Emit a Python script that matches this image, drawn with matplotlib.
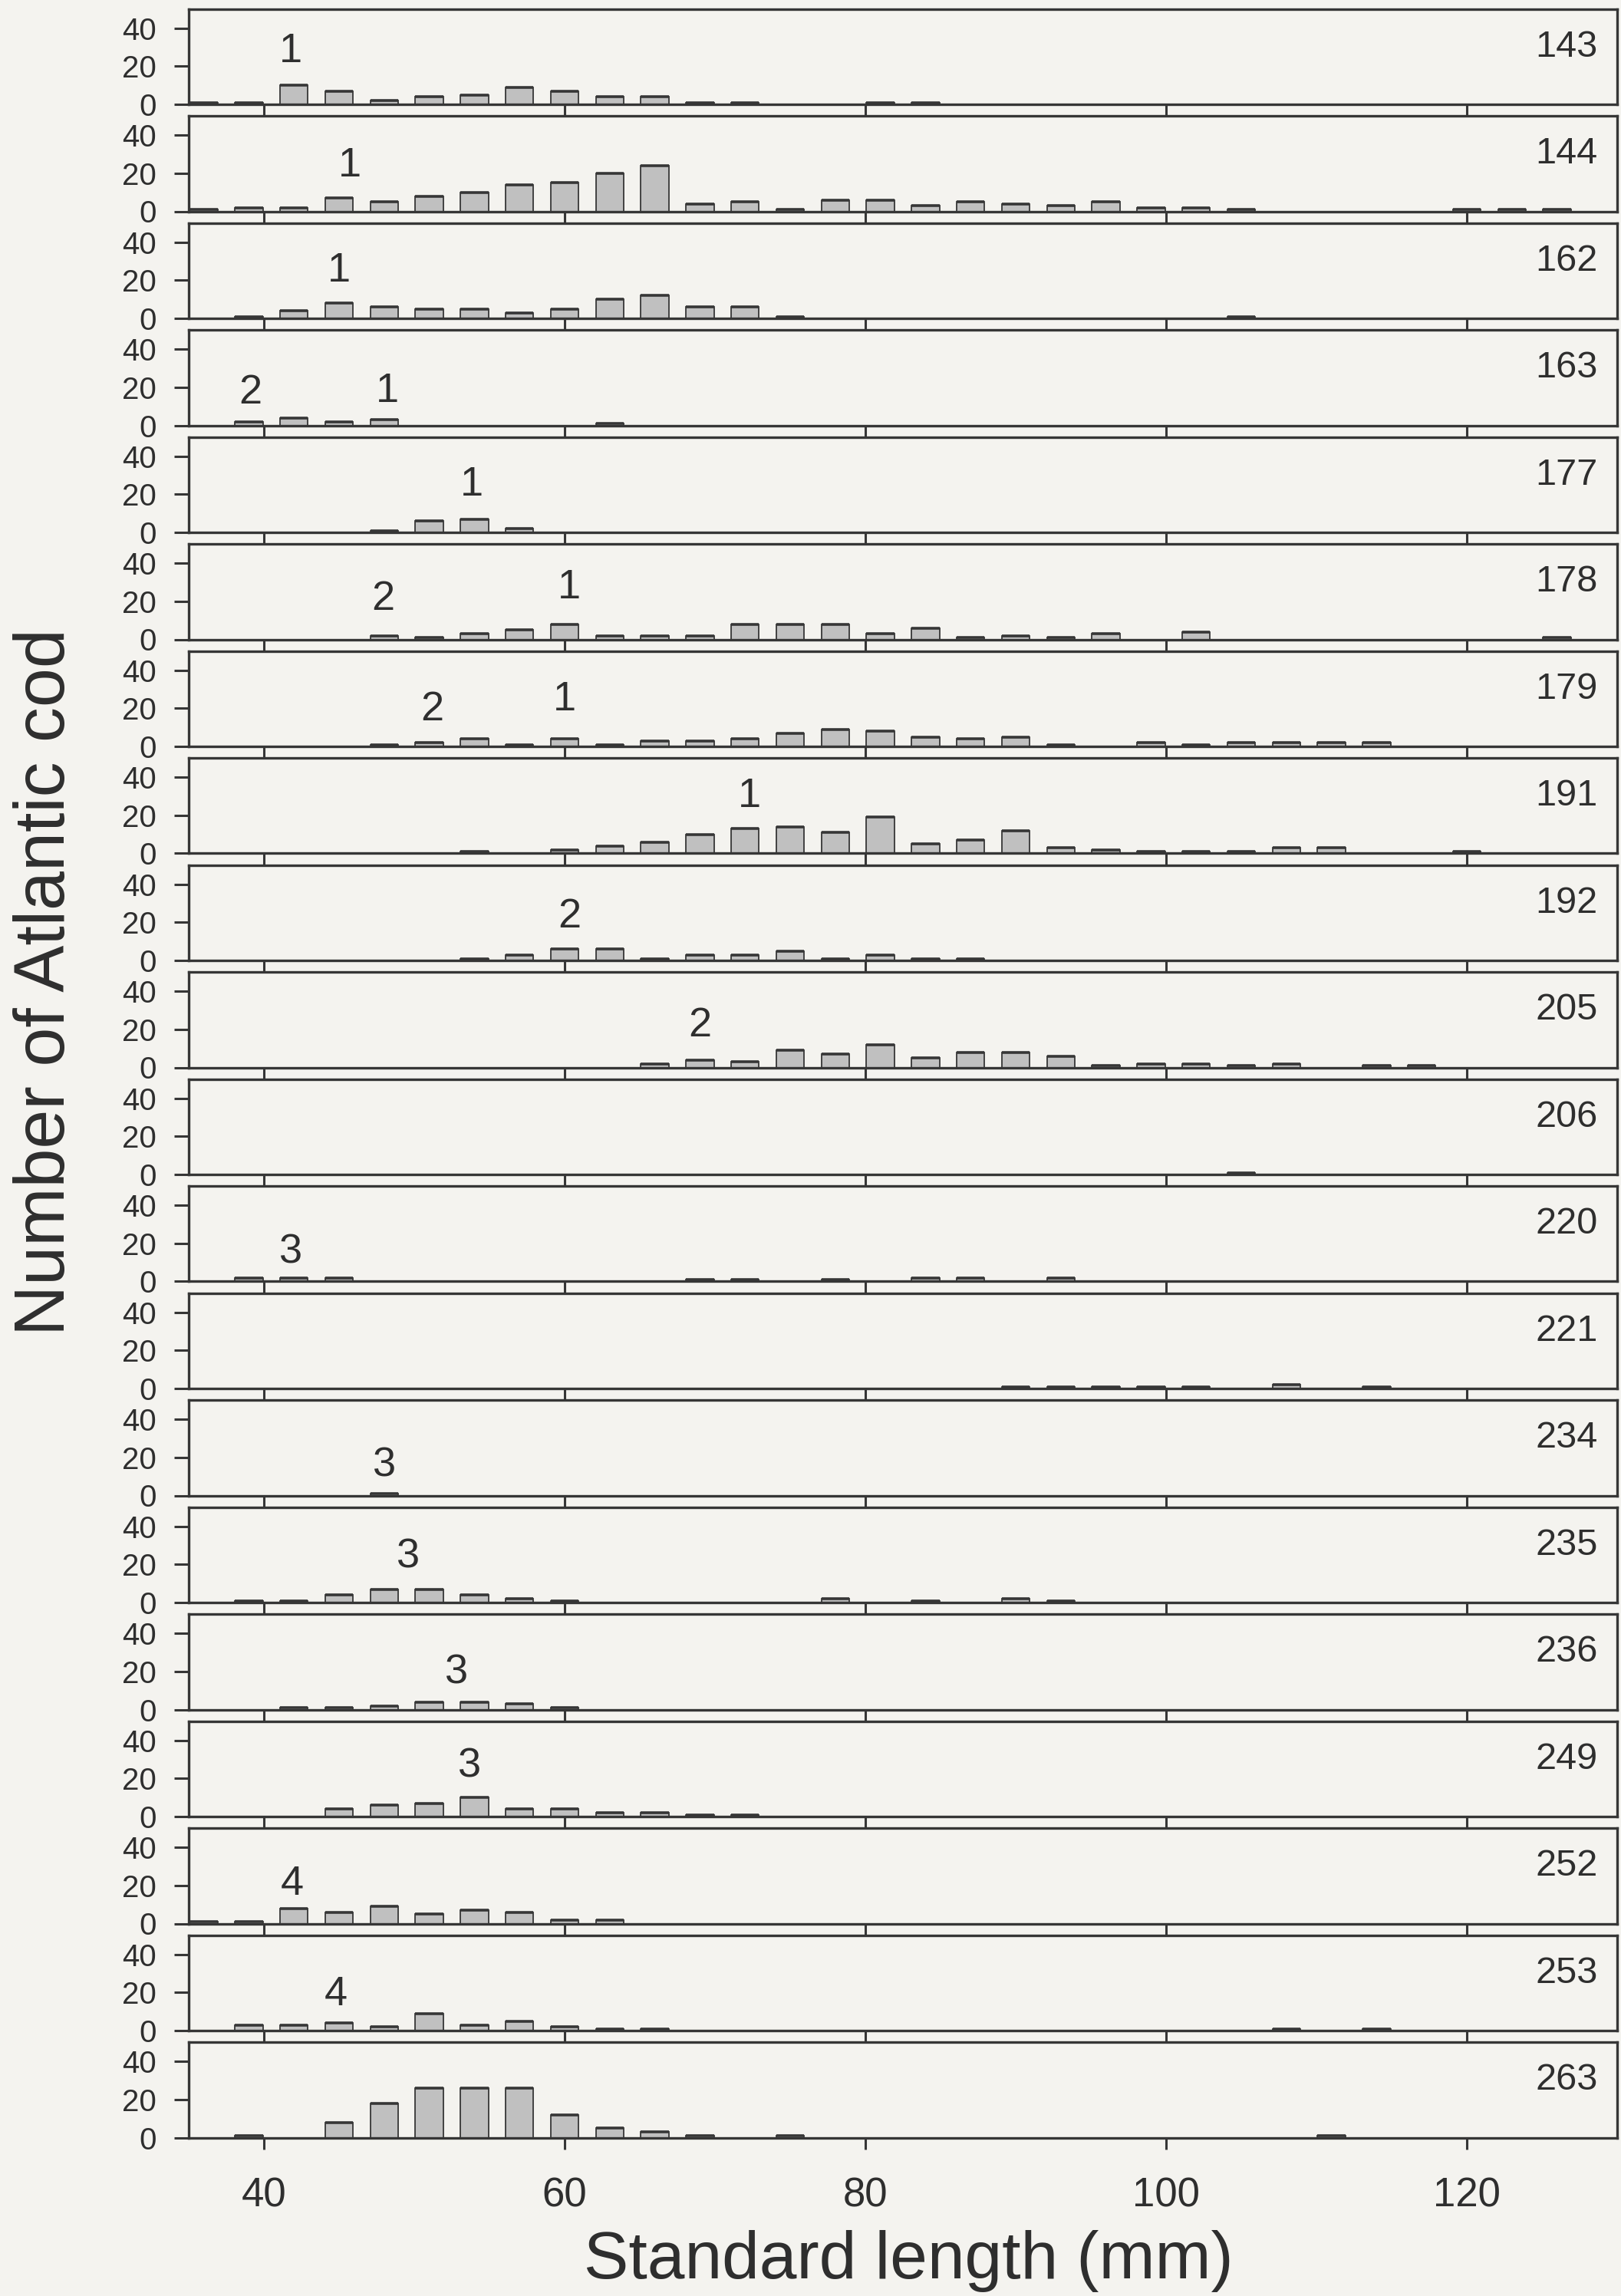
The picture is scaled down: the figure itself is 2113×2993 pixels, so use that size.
import matplotlib
matplotlib.use("Agg")
import matplotlib.pyplot as plt

plt.rcParams["font.family"] = ["Liberation Sans", "DejaVu Sans"]

# length classes (mm), bin centres
lengths = [36, 39, 42, 45, 48, 51, 54, 57, 60, 63, 66, 69, 72, 75, 78, 81,
           84, 87, 90, 93, 96, 99, 102, 105, 108, 111, 114, 117, 120, 123, 126]

stations = [143, 144, 162, 163, 177, 178, 179, 191, 192, 205,
            206, 220, 221, 234, 235, 236, 249, 252, 253, 263]

counts = [
    [1, 1, 10, 7, 2, 4, 5, 9, 7, 4, 4, 1, 1, 0, 0, 1, 1, 0, 0, 0, 0, 0, 0, 0, 0, 0, 0, 0, 0, 0, 0],
    [1, 2, 2, 7, 5, 8, 10, 14, 15, 20, 24, 4, 5, 1, 6, 6, 3, 5, 4, 3, 5, 2, 2, 1, 0, 0, 0, 0, 1, 1, 1],
    [0, 1, 4, 8, 6, 5, 5, 3, 5, 10, 12, 6, 6, 1, 0, 0, 0, 0, 0, 0, 0, 0, 0, 1, 0, 0, 0, 0, 0, 0, 0],
    [0, 2, 4, 2, 3, 0, 0, 0, 0, 1, 0, 0, 0, 0, 0, 0, 0, 0, 0, 0, 0, 0, 0, 0, 0, 0, 0, 0, 0, 0, 0],
    [0, 0, 0, 0, 1, 6, 7, 2, 0, 0, 0, 0, 0, 0, 0, 0, 0, 0, 0, 0, 0, 0, 0, 0, 0, 0, 0, 0, 0, 0, 0],
    [0, 0, 0, 0, 2, 1, 3, 5, 8, 2, 2, 2, 8, 8, 8, 3, 6, 1, 2, 1, 3, 0, 4, 0, 0, 0, 0, 0, 0, 0, 1],
    [0, 0, 0, 0, 1, 2, 4, 1, 4, 1, 3, 3, 4, 7, 9, 8, 5, 4, 5, 1, 0, 2, 1, 2, 2, 2, 2, 0, 0, 0, 0],
    [0, 0, 0, 0, 0, 0, 1, 0, 2, 4, 6, 10, 13, 14, 11, 19, 5, 7, 12, 3, 2, 1, 1, 1, 3, 3, 0, 0, 1, 0, 0],
    [0, 0, 0, 0, 0, 0, 1, 3, 6, 6, 1, 3, 3, 5, 1, 3, 1, 1, 0, 0, 0, 0, 0, 0, 0, 0, 0, 0, 0, 0, 0],
    [0, 0, 0, 0, 0, 0, 0, 0, 0, 0, 2, 4, 3, 9, 7, 12, 5, 8, 8, 6, 1, 2, 2, 1, 2, 0, 1, 1, 0, 0, 0],
    [0, 0, 0, 0, 0, 0, 0, 0, 0, 0, 0, 0, 0, 0, 0, 0, 0, 0, 0, 0, 0, 0, 0, 1, 0, 0, 0, 0, 0, 0, 0],
    [0, 2, 2, 2, 0, 0, 0, 0, 0, 0, 0, 1, 1, 0, 1, 0, 2, 2, 0, 2, 0, 0, 0, 0, 0, 0, 0, 0, 0, 0, 0],
    [0, 0, 0, 0, 0, 0, 0, 0, 0, 0, 0, 0, 0, 0, 0, 0, 0, 0, 1, 1, 1, 1, 1, 0, 2, 0, 1, 0, 0, 0, 0],
    [0, 0, 0, 0, 1, 0, 0, 0, 0, 0, 0, 0, 0, 0, 0, 0, 0, 0, 0, 0, 0, 0, 0, 0, 0, 0, 0, 0, 0, 0, 0],
    [0, 1, 1, 4, 7, 7, 4, 2, 1, 0, 0, 0, 0, 0, 2, 0, 1, 0, 2, 1, 0, 0, 0, 0, 0, 0, 0, 0, 0, 0, 0],
    [0, 0, 1, 1, 2, 4, 4, 3, 1, 0, 0, 0, 0, 0, 0, 0, 0, 0, 0, 0, 0, 0, 0, 0, 0, 0, 0, 0, 0, 0, 0],
    [0, 0, 0, 4, 6, 7, 10, 4, 4, 2, 2, 1, 1, 0, 0, 0, 0, 0, 0, 0, 0, 0, 0, 0, 0, 0, 0, 0, 0, 0, 0],
    [1, 1, 8, 6, 9, 5, 7, 6, 2, 2, 0, 0, 0, 0, 0, 0, 0, 0, 0, 0, 0, 0, 0, 0, 0, 0, 0, 0, 0, 0, 0],
    [0, 3, 3, 4, 2, 9, 3, 5, 2, 1, 1, 0, 0, 0, 0, 0, 0, 0, 0, 0, 0, 0, 0, 0, 1, 0, 1, 0, 0, 0, 0],
    [0, 1, 0, 8, 18, 26, 26, 26, 12, 5, 3, 1, 0, 1, 0, 0, 0, 0, 0, 0, 0, 0, 0, 0, 0, 1, 0, 0, 0, 0, 0],
]

# cohort labels written above the modes
cohort_station = [143, 144, 162, 163, 163, 177, 178, 178, 179, 179,
                  191, 192, 205, 220, 234, 235, 236, 249, 252, 253]
cohort_text = ["1", "1", "1", "2", "1", "1", "2", "1", "2", "1",
               "1", "2", "2", "3", "3", "3", "3", "3", "4", "4"]
cohort_x = [41.8, 45.7, 45.0, 39.1, 48.2, 53.8, 47.9, 60.3, 51.2, 60.0,
            72.3, 60.3, 69.0, 41.8, 48.0, 49.6, 52.8, 53.7, 41.9, 44.8]
cohort_y = [27.8, 24.0, 24.8, 16.9, 17.9, 25.0, 21.0, 27.0, 19.4, 24.4,
            29.8, 23.0, 22.0, 15.4, 15.8, 23.9, 19.3, 26.2, 20.8, 18.8]

xticks = [40, 60, 80, 100, 120]
yticks = [0, 20, 40]

# --- layout (pixels of the 2113 x 2993 canvas) ---
W, H = 2113, 2993
paper = "#f4f3ef"
ink = "#363636"
bar_w = 1.85

fig = plt.figure(figsize=(W / 100, H / 100), dpi=100)
fig.patch.set_facecolor(paper)

left_px, right_px = 246, 2108
top0, bot0, pitch = 11.7, 136.0, 139.5

axes = []
for i, st in enumerate(stations):
    top_px = top0 + pitch * i
    bot_px = bot0 + pitch * i
    ax = fig.add_axes([left_px / W, 1 - bot_px / H,
                       (right_px - left_px) / W, (bot_px - top_px) / H])
    ax.set_facecolor(paper)
    ax.bar(lengths, counts[i], width=bar_w, color="#c0c0c0",
           edgecolor=ink, linewidth=1.3, zorder=3)
    # heavier top edge on each non-empty bar, as in the printed figure
    xs = [x for x, c in zip(lengths, counts[i]) if c > 0]
    cs = [c for c in counts[i] if c > 0]
    if xs:
        ax.hlines(cs, [x - bar_w / 2 for x in xs], [x + bar_w / 2 for x in xs],
                  colors=ink, linewidth=2.6, zorder=4)
    ax.set_xlim(35, 130)
    ax.set_ylim(0, 50)
    ax.set_xticks(xticks)
    ax.set_yticks(yticks)
    for sp in ax.spines.values():
        sp.set_linewidth(2.4)
        sp.set_color(ink)
        sp.set_zorder(5)
    ax.tick_params(axis="y", direction="out", length=13.5, width=2.2,
                   color=ink, labelsize=29, labelcolor="#2e2e2e", pad=17)
    ax.tick_params(axis="x", direction="out", length=11, width=2.2,
                   color=ink, labelsize=38, labelcolor="#2e2e2e", pad=26)
    if i < len(stations) - 1:
        ax.set_xticklabels([])
    ax.text(128.7, 30, str(st), ha="right", va="center",
            fontsize=35, color="#2e2e2e")
    axes.append(ax)

for st, txt, x, y in zip(cohort_station, cohort_text, cohort_x, cohort_y):
    ax = axes[stations.index(st)]
    ax.text(x, y, txt, ha="center", va="center", fontsize=39,
            color="#2e2e2e", zorder=6)

fig.text(60 / W, 1 - 1280 / H, "Number of Atlantic cod", rotation=90,
         ha="center", va="center", fontsize=66, color="#2e2e2e")
fig.text(1184 / W, 1 - 2970 / H, "Standard length (mm)",
         ha="center", va="baseline", fontsize=63, color="#2e2e2e")

fig.savefig("out.png", dpi=100, facecolor=fig.get_facecolor())
plt.close(fig)
